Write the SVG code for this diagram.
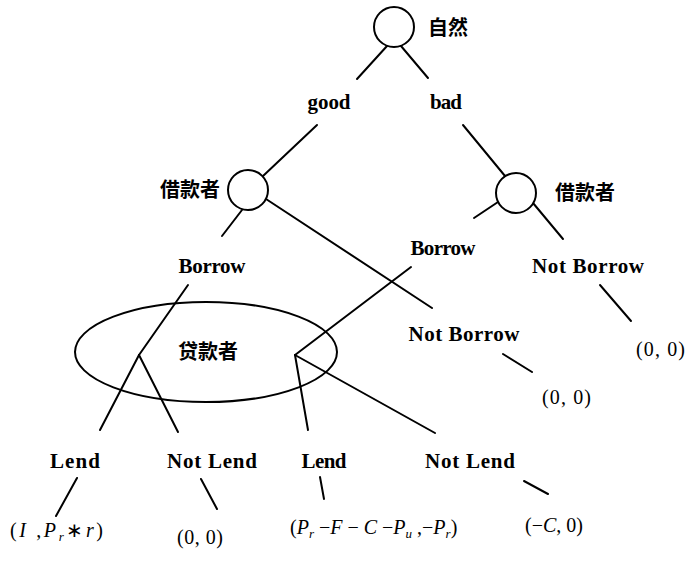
<svg xmlns="http://www.w3.org/2000/svg" width="691" height="566" viewBox="0 0 691 566">
<style>
.ln{stroke:#000;stroke-width:2;fill:none;stroke-linecap:round}
.nd{stroke:#000;stroke-width:2;fill:#fff}
.lb{font-family:"Liberation Serif",serif;font-weight:bold;font-size:21px;fill:#000;text-anchor:middle}
.cn{font-family:"Noto Sans CJK SC","Noto Sans CJK JP",sans-serif;font-weight:bold;font-size:20px;fill:#000}
.pf{font-family:"Liberation Serif",serif;font-size:20px;fill:#000}
.it{font-style:italic}
.sb{font-size:13px;font-style:italic}
</style>
<rect width="691" height="566" fill="#fff"/>
<g id="connectors">
<line class="ln" x1="387" y1="46" x2="357" y2="79"/>
<line class="ln" x1="401" y1="46" x2="428" y2="78"/>
<line class="ln" x1="317" y1="125" x2="263" y2="176"/>
<line class="ln" x1="242" y1="210" x2="222" y2="236"/>
<line class="ln" x1="266" y1="199" x2="432" y2="308"/>
<line class="ln" x1="188" y1="285" x2="139" y2="355"/>
<line class="ln" x1="139" y1="355" x2="100" y2="430"/>
<line class="ln" x1="139" y1="355" x2="178" y2="432"/>
<line class="ln" x1="411" y1="267" x2="295" y2="355"/>
<line class="ln" x1="295" y1="355" x2="308" y2="430"/>
<line class="ln" x1="295" y1="355" x2="435" y2="433"/>
<line class="ln" x1="463" y1="125" x2="505" y2="176"/>
<line class="ln" x1="498" y1="202" x2="474" y2="218"/>
<line class="ln" x1="533" y1="203" x2="563" y2="239"/>
<line class="ln" x1="600" y1="285" x2="631" y2="321"/>
<line class="ln" x1="503" y1="354" x2="532" y2="372"/>
<line class="ln" x1="77" y1="478" x2="56" y2="516"/>
<line class="ln" x1="201" y1="479" x2="217" y2="509"/>
<line class="ln" x1="320" y1="477" x2="324" y2="499"/>
<line class="ln" x1="524" y1="481" x2="548" y2="494"/>
</g>
<g id="nature">
<circle class="nd" cx="394" cy="27" r="20"/>
<text class="cn" x="428" y="35">自然</text>
</g>
<g id="borrower-good">
<circle class="nd" cx="248" cy="190" r="20"/>
<text class="cn" x="160" y="197">借款者</text>
</g>
<g id="borrower-bad">
<circle class="nd" cx="516" cy="193" r="20"/>
<text class="cn" x="555" y="200">借款者</text>
</g>
<g id="lender">
<ellipse class="ln" cx="206" cy="352" rx="131" ry="50"/>
<text class="cn" x="178" y="359">贷款者</text>
</g>
<g id="labels">
<text class="lb" x="329" y="109" textLength="43">good</text>
<text class="lb" x="446" y="109" textLength="32">bad</text>
<text class="lb" x="212" y="273" textLength="67">Borrow</text>
<text class="lb" x="443" y="255" textLength="65">Borrow</text>
<text class="lb" x="464" y="341" textLength="111">Not Borrow</text>
<text class="lb" x="588" y="273" textLength="112">Not Borrow</text>
<text class="lb" x="75" y="468" textLength="50">Lend</text>
<text class="lb" x="212" y="468" textLength="90">Not Lend</text>
<text class="lb" x="324" y="468" textLength="45">Lend</text>
<text class="lb" x="470" y="468" textLength="90">Not Lend</text>
</g>
<g id="payoffs">
<text class="pf" x="636" y="356" textLength="49">(0, 0)</text>
<text class="pf" x="542" y="404" textLength="49">(0, 0)</text>
<text class="pf" x="177" y="544" textLength="46">(0, 0)</text>
<text class="pf" x="10" y="537" textLength="93">(<tspan class="it">I</tspan> ,<tspan class="it">P</tspan><tspan class="sb" dy="4">r</tspan><tspan dy="-4">∗</tspan><tspan class="it">r</tspan>)</text>
<text class="pf" x="290" y="534">(<tspan class="it">P</tspan><tspan class="sb" dy="4">r</tspan><tspan dy="-4"> −</tspan><tspan class="it">F</tspan> − <tspan class="it">C</tspan> −<tspan class="it">P</tspan><tspan class="sb" dy="4">u</tspan><tspan dy="-4"> ,−</tspan><tspan class="it">P</tspan><tspan class="sb" dy="4">r</tspan><tspan dy="-4">)</tspan></text>
<text class="pf" x="525" y="532">(−<tspan class="it">C</tspan>, 0)</text>
</g>
</svg>
